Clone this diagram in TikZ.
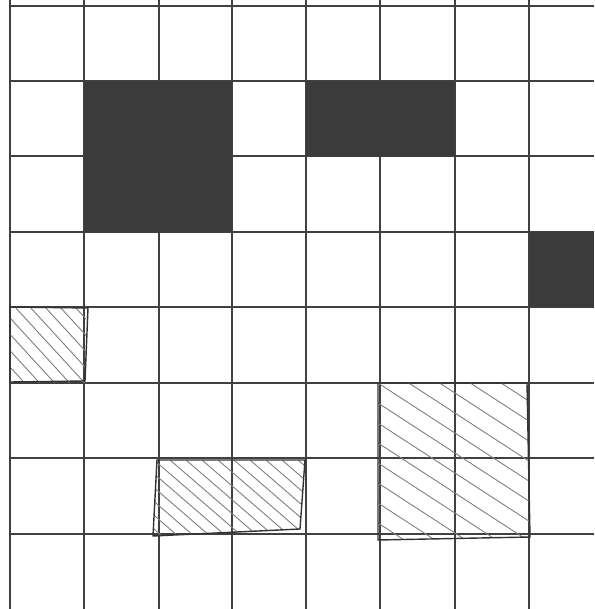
\documentclass[tikz,border=0pt]{standalone}
\begin{document}
\begin{tikzpicture}[x=1pt,y=-1pt,
  gridline/.style={draw=black!75,line width=1.1pt},
  darkcell/.style={fill=black!77,draw=none},
  hatchbox/.style={draw=black!80,line width=1.4pt},
  hatchline/.style={draw=black!50,line width=0.9pt}]
\fill[white] (0,0) rectangle (594,609);
\useasboundingbox (0,0) rectangle (594,609);
% grid
\foreach \x in {10,84,159,232,306,380,455,529}
  \draw[gridline] (\x,0) -- (\x,609);
\foreach \y in {6,81,156,232,307,383,458,534}
  \draw[gridline] (10,\y) -- (594,\y);
% dark cells
\fill[darkcell] (84,81) rectangle (232,232);
\fill[darkcell] (306,81) rectangle (455,156);
\fill[darkcell] (529,232) rectangle (594,307);
% hatched box 1
\begin{scope}
  \clip (10,307) rectangle (86,382);
  \foreach \i in {-130,-115,...,80}
    \draw[hatchline] (10+\i,307) -- ++(110,120);
\end{scope}
\draw[hatchbox] (10,307) -- (88,308) -- (85,381) -- (10,382) -- cycle;
% hatched box 2
\begin{scope}
  \clip (157,460) -- (305,460) -- (300,529) -- (153,536) -- cycle;
  \foreach \i in {-150,-134,...,160}
    \draw[hatchline] (160+\i,460) -- ++(110,95);
\end{scope}
\draw[hatchbox] (157,460) -- (305,460) -- (300,529) -- (153,536) -- cycle;
% hatched box 3
\begin{scope}
  \clip (378,383) -- (527,383) -- (530,537) -- (378,540) -- cycle;
  \foreach \i in {-260,-240,...,170}
    \draw[hatchline] (178,253+\i) -- (678,578+\i);
\end{scope}
\draw[hatchbox] (378,383) -- (527,383) -- (530,537) -- (378,540) -- cycle;
\end{tikzpicture}
\end{document}
